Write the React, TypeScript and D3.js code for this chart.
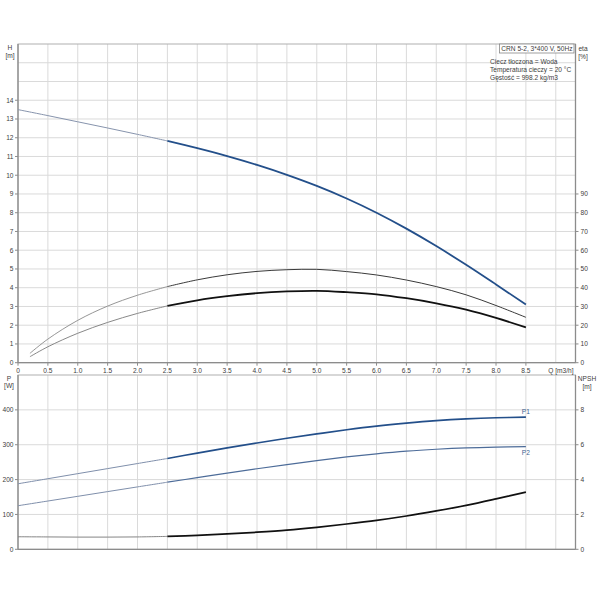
import React from "react";
import * as d3 from "d3";

// ---- data ----
const qPoints = [0, 0.5, 1.0, 1.5, 2.0, 2.5, 3.0, 3.5, 4.0, 4.5, 5.0, 5.5, 6.0, 6.5, 7.0, 7.5, 8.0, 8.5];
const headValues = [13.5, 13.18, 12.85, 12.52, 12.18, 11.83, 11.44, 11.02, 10.55, 10.02, 9.43, 8.76, 8.0, 7.15, 6.22, 5.22, 4.17, 3.1];
const etaQ = [0.2, 0.5, 1.0, 1.5, 2.0, 2.5, 3.0, 3.5, 4.0, 4.5, 5.0, 5.5, 6.0, 6.5, 7.0, 7.5, 8.0, 8.5];
const etaPump = [5, 12.6, 22.6, 30.2, 36.0, 40.6, 44.2, 46.9, 48.7, 49.6, 49.8, 48.6, 46.8, 44.1, 40.6, 36.2, 30.5, 24.2];
const etaTotal = [3.2, 8.5, 15.7, 21.5, 26.3, 30.3, 33.3, 35.5, 37.1, 38.0, 38.3, 37.6, 36.5, 34.4, 31.7, 28.3, 23.9, 18.8];
const p1Values = [188, 202.5, 217, 231.5, 246, 260.5, 276, 291, 305, 318.5, 331, 343, 353.5, 362, 369, 374, 377.3, 379];
const p2Values = [125, 138.5, 152, 165.5, 179, 192.5, 205.5, 218.5, 231, 243, 254.5, 265, 274, 281.5, 287, 291, 293.3, 294.5];
const npshValues = [0.72, 0.71, 0.7, 0.7, 0.71, 0.74, 0.8, 0.88, 0.98, 1.1, 1.26, 1.45, 1.66, 1.91, 2.2, 2.52, 2.89, 3.28];

const qTicks = [0, 0.5, 1.0, 1.5, 2.0, 2.5, 3.0, 3.5, 4.0, 4.5, 5.0, 5.5, 6.0, 6.5, 7.0, 7.5, 8.0, 8.5];
const qTickLabels = ["0", "0.5", "1.0", "1.5", "2.0", "2.5", "3.0", "3.5", "4.0", "4.5", "5.0", "5.5", "6.0", "6.5", "7.0", "7.5", "8.0", "8.5"];
const qGrid = [0.5, 1, 1.5, 2, 2.5, 3, 3.5, 4, 4.5, 5, 5.5, 6, 6.5, 7, 7.5, 8, 8.5, 9];
const hTicks = [0, 1, 2, 3, 4, 5, 6, 7, 8, 9, 10, 11, 12, 13, 14];
const hGrid = [1, 2, 3, 4, 5, 6, 7, 8, 9, 10, 11, 12, 13, 14, 15, 16];
const etaTicks = [0, 10, 20, 30, 40, 50, 60, 70, 80, 90];
const pTicks = [0, 100, 200, 300, 400];
const npshTicks = [0, 2, 4, 6, 8];
const infoTitle = "CRN 5-2, 3*400 V, 50Hz";
const infoLines = ["Ciecz tłoczona = Woda", "Temperatura cieczy = 20 °C", "Gęstość = 998.2 kg/m3"];
const qSplit = 2.5;

const FONT = "'Liberation Sans', Arial, sans-serif";
const FS = 6.6;
const TXT = "#404040";

export default function App() {
  const left = 18, right = 575.5;
  const topT = 44, topB = 362.7;
  const botT = 375, botB = 549.3;

  const x = d3.scaleLinear().domain([0, 9.33]).range([left, right]);
  const yH = d3.scaleLinear().domain([0, 17]).range([topB, topT]);
  const yEta = d3.scaleLinear().domain([0, 170]).range([topB, topT]);
  const yP = d3.scaleLinear().domain([0, 500]).range([botB, botT]);
  const yN = d3.scaleLinear().domain([0, 10]).range([botB, botT]);

  const mk = (qs: number[], vs: number[], y: d3.ScaleLinear<number, number>) => {
    const pts = qs.map((q, i) => [q, vs[i]] as [number, number]);
    const line = d3
      .line<[number, number]>()
      .x((d) => x(d[0]))
      .y((d) => y(d[1]))
      .curve(d3.curveCatmullRom.alpha(0.5));
    const thin = line(pts.filter((p) => p[0] <= qSplit)) || "";
    const thick = line(pts.filter((p) => p[0] >= qSplit)) || "";
    return { thin, thick };
  };

  const h = mk(qPoints, headValues, yH);
  const e1 = mk(etaQ, etaPump, yEta);
  const e2 = mk(etaQ, etaTotal, yEta);
  const p1 = mk(qPoints, p1Values, yP);
  const p2 = mk(qPoints, p2Values, yP);
  const np = mk(qPoints, npshValues, yN);

  const gridColor = "#dadada";
  const axisColor = "#8c8c8c";
  const blue = "#234f8a";

  const textProps = { fontFamily: FONT, fontSize: FS, fill: TXT };

  return (
    <div style={{ position: "absolute", left: 0, top: 0 }}>
      <svg width={600} height={600} viewBox="0 0 600 600" style={{ display: "block", background: "#fff" }}>
        {/* top panel grid */}
        {qGrid.map((q) => (
          <line key={"tg" + q} x1={x(q)} x2={x(q)} y1={topT} y2={topB} stroke={gridColor} strokeWidth={1} />
        ))}
        {hGrid.map((v) => (
          <line key={"th" + v} x1={left} x2={right} y1={yH(v)} y2={yH(v)} stroke={gridColor} strokeWidth={1} />
        ))}
        {/* bottom panel grid */}
        {qGrid.map((q) => (
          <line key={"bg" + q} x1={x(q)} x2={x(q)} y1={botT} y2={botB} stroke={gridColor} strokeWidth={1} />
        ))}
        {pTicks.slice(1).map((v) => (
          <line key={"bp" + v} x1={left} x2={right} y1={yP(v)} y2={yP(v)} stroke={gridColor} strokeWidth={1} />
        ))}

        {/* frames */}
        <rect x={left} y={topT} width={right - left} height={topB - topT} fill="none" stroke="#b0b0b0" strokeWidth={1} />
        <rect x={left} y={botT} width={right - left} height={botB - botT} fill="none" stroke="#b0b0b0" strokeWidth={1} />
        {[
          [topT, topB],
          [botT, botB],
        ].map(([a, b], i) => (
          <g key={"ax" + i}>
            <line x1={left} x2={left} y1={a} y2={b} stroke={axisColor} strokeWidth={1.3} />
            <line x1={right} x2={right} y1={a} y2={b} stroke={axisColor} strokeWidth={1.3} />
            <line x1={left} x2={right} y1={b} y2={b} stroke={axisColor} strokeWidth={1.3} />
          </g>
        ))}

        {/* top ticks */}
        {hTicks.map((v) => (
          <g key={"hl" + v}>
            <line x1={left - 3} x2={left} y1={yH(v)} y2={yH(v)} stroke={axisColor} />
            <text x={left - 4.5} y={yH(v)} dy="0.35em" textAnchor="end" {...textProps}>
              {v}
            </text>
          </g>
        ))}
        {etaTicks.map((v) => (
          <g key={"er" + v}>
            <line x1={right} x2={right + 3} y1={yEta(v)} y2={yEta(v)} stroke={axisColor} />
            <text x={right + 5} y={yEta(v)} dy="0.35em" textAnchor="start" {...textProps}>
              {v}
            </text>
          </g>
        ))}
        {qTicks.map((q, i) => (
          <g key={"qt" + q}>
            <line x1={x(q)} x2={x(q)} y1={topB} y2={topB + 3} stroke={axisColor} />
            <text x={x(q)} y={topB + 8} dy="0.35em" textAnchor="middle" {...textProps}>
              {qTickLabels[i]}
            </text>
          </g>
        ))}
        <text x={right - 2} y={topB + 8} dy="0.35em" textAnchor="end" {...textProps}>
          Q [m3/h]
        </text>

        {/* bottom ticks */}
        {pTicks.map((v) => (
          <g key={"pl" + v}>
            <line x1={left - 3} x2={left} y1={yP(v)} y2={yP(v)} stroke={axisColor} />
            <text x={left - 4.5} y={yP(v)} dy="0.35em" textAnchor="end" {...textProps}>
              {v}
            </text>
          </g>
        ))}
        {npshTicks.map((v) => (
          <g key={"nr" + v}>
            <line x1={right} x2={right + 3} y1={yN(v)} y2={yN(v)} stroke={axisColor} />
            <text x={right + 5} y={yN(v)} dy="0.35em" textAnchor="start" {...textProps}>
              {v}
            </text>
          </g>
        ))}

        {/* axis titles */}
        <text x={10} y={49.5} textAnchor="middle" {...textProps}>H</text>
        <text x={10} y={57.5} textAnchor="middle" {...textProps}>[m]</text>
        <text x={583} y={51} textAnchor="middle" {...textProps}>eta</text>
        <text x={583} y={59} textAnchor="middle" {...textProps}>[%]</text>
        <text x={9} y={381} textAnchor="middle" {...textProps}>P</text>
        <text x={9} y={388} textAnchor="middle" {...textProps}>[W]</text>
        <text x={587} y={381} textAnchor="middle" {...textProps}>NPSH</text>
        <text x={587} y={388.5} textAnchor="middle" {...textProps}>[m]</text>

        {/* info box */}
        <rect x={499.5} y={44} width={74.5} height={9} fill="#fff" stroke="#888" strokeWidth={0.8} />
        <text x={572.5} y={51} textAnchor="end" {...textProps}>{infoTitle}</text>
        {infoLines.map((t, i) => (
          <text key={t} x={490} y={64 + i * 7.8} textAnchor="start" {...textProps}>
            {t}
          </text>
        ))}

        {/* curves: top */}
        <path d={e1.thin} fill="none" stroke="#8a8a8a" strokeWidth={0.9} />
        <path d={e1.thick} fill="none" stroke="#3a3a3a" strokeWidth={1} />
        <path d={e2.thin} fill="none" stroke="#7a7a7a" strokeWidth={0.9} />
        <path d={e2.thick} fill="none" stroke="#111" strokeWidth={1.8} />
        <path d={h.thin} fill="none" stroke="#8794ad" strokeWidth={1} />
        <path d={h.thick} fill="none" stroke={blue} strokeWidth={1.8} />

        {/* curves: bottom */}
        <path d={p1.thin} fill="none" stroke="#7f8fab" strokeWidth={1} />
        <path d={p1.thick} fill="none" stroke={blue} strokeWidth={1.7} />
        <path d={p2.thin} fill="none" stroke="#7f8fab" strokeWidth={1} />
        <path d={p2.thick} fill="none" stroke="#4d6c99" strokeWidth={1.2} />
        <path d={np.thin} fill="none" stroke="#777" strokeWidth={0.9} />
        <path d={np.thick} fill="none" stroke="#111" strokeWidth={1.7} />

        <text x={x(8.5)} y={yP(p1Values[p1Values.length - 1]) - 3} textAnchor="middle" fontFamily={FONT} fontSize={FS} fill="#3d6391">
          P1
        </text>
        <text x={x(8.5)} y={yP(p2Values[p2Values.length - 1]) + 8} textAnchor="middle" fontFamily={FONT} fontSize={FS} fill="#3d6391">
          P2
        </text>
      </svg>
    </div>
  );
}
